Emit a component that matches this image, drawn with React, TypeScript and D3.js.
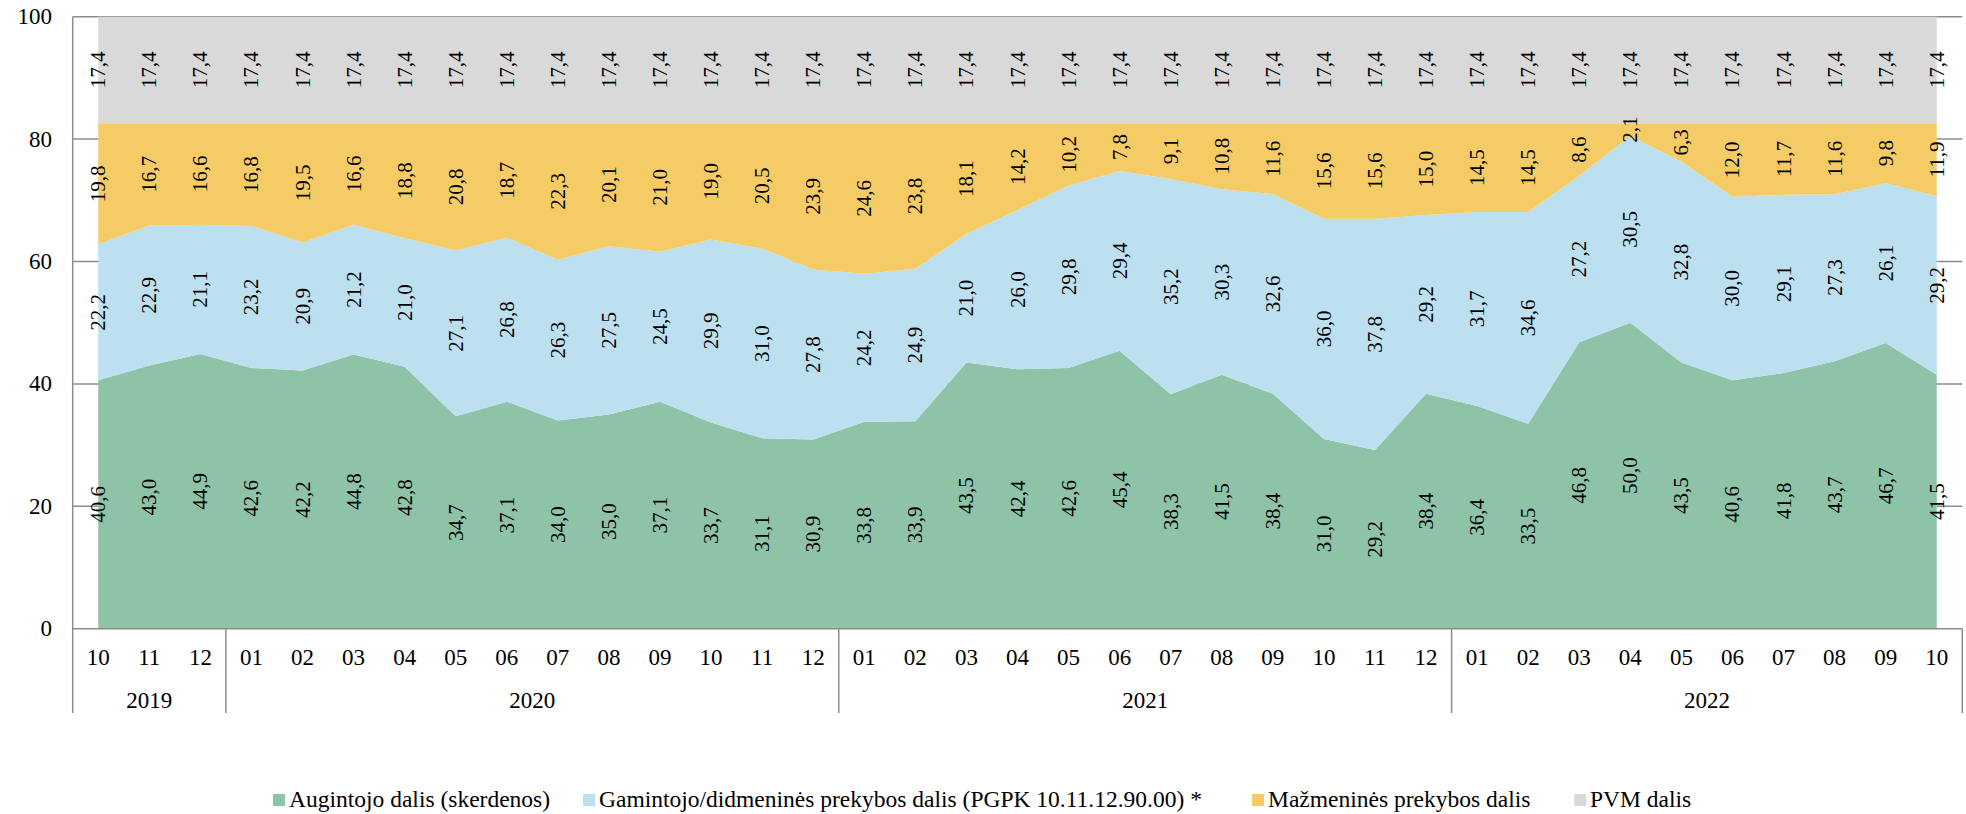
import React from "react";
import * as d3 from "d3";

const months = [
  "10", "11", "12",
  "01", "02", "03", "04", "05", "06", "07", "08", "09", "10", "11", "12",
  "01", "02", "03", "04", "05", "06", "07", "08", "09", "10", "11", "12",
  "01", "02", "03", "04", "05", "06", "07", "08", "09", "10",
];
const years = [
  { label: "2019", count: 3 },
  { label: "2020", count: 12 },
  { label: "2021", count: 12 },
  { label: "2022", count: 10 },
];
const augintojo = [
  40.6, 43.0, 44.9,
  42.6, 42.2, 44.8, 42.8, 34.7, 37.1, 34.0, 35.0, 37.1, 33.7, 31.1, 30.9,
  33.8, 33.9, 43.5, 42.4, 42.6, 45.4, 38.3, 41.5, 38.4, 31.0, 29.2, 38.4,
  36.4, 33.5, 46.8, 50.0, 43.5, 40.6, 41.8, 43.7, 46.7, 41.5,
];
const gamintojo = [
  22.2, 22.9, 21.1,
  23.2, 20.9, 21.2, 21.0, 27.1, 26.8, 26.3, 27.5, 24.5, 29.9, 31.0, 27.8,
  24.2, 24.9, 21.0, 26.0, 29.8, 29.4, 35.2, 30.3, 32.6, 36.0, 37.8, 29.2,
  31.7, 34.6, 27.2, 30.5, 32.8, 30.0, 29.1, 27.3, 26.1, 29.2,
];
const mazmenines = [
  19.8, 16.7, 16.6,
  16.8, 19.5, 16.6, 18.8, 20.8, 18.7, 22.3, 20.1, 21.0, 19.0, 20.5, 23.9,
  24.6, 23.8, 18.1, 14.2, 10.2, 7.8, 9.1, 10.8, 11.6, 15.6, 15.6, 15.0,
  14.5, 14.5, 8.6, 2.1, 6.3, 12.0, 11.7, 11.6, 9.8, 11.9,
];
const pvm = [
  17.4, 17.4, 17.4,
  17.4, 17.4, 17.4, 17.4, 17.4, 17.4, 17.4, 17.4, 17.4, 17.4, 17.4, 17.4,
  17.4, 17.4, 17.4, 17.4, 17.4, 17.4, 17.4, 17.4, 17.4, 17.4, 17.4, 17.4,
  17.4, 17.4, 17.4, 17.4, 17.4, 17.4, 17.4, 17.4, 17.4, 17.4,
];
const seriesNames = [
  "Augintojo dalis (skerdenos)",
  "Gamintojo/didmeninės prekybos dalis (PGPK 10.11.12.90.00) *",
  "Mažmeninės prekybos dalis",
  "PVM dalis",
];
const yTicks = [0, 20, 40, 60, 80, 100];

const colors = ["#8FC3A8", "#BDE0F0", "#F5CB66", "#D9D9D9"];
const keys = ["a", "g", "m", "p"];
const legendX = [273, 583, 1252, 1574];

const W = 1966;
const H = 814;
const L = 72.7;
const R = 1962.3;
const T = 16.7;
const B = 628.7;
const FONT = "Liberation Serif, Tinos, Times New Roman, DejaVu Serif, serif";
const AXIS = "#8c8c8c";
const txt = { fontFamily: FONT };

export default function App() {
  const rows = months.map((m, i) => ({
    a: augintojo[i],
    g: gamintojo[i],
    m: mazmenines[i],
    p: pvm[i],
  }));
  const stack = d3.stack<any>().keys(keys);
  const layers = stack(rows);

  const x = d3
    .scaleBand<number>()
    .domain(months.map((_, i) => i))
    .range([L, R]);
  const bw = x.bandwidth();
  const cx = (i: number) => (x(i) as number) + bw / 2;
  const y = d3.scaleLinear().domain([0, 100]).range([B, T]);

  const area = d3
    .area<any>()
    .x((_, i) => cx(i))
    .y0((d) => y(d[0]))
    .y1((d) => y(d[1]));

  const fmt = (v: number) => v.toFixed(1).replace(".", ",");

  let acc = 0;
  const groups = years.map((yr) => {
    const start = acc;
    acc += yr.count;
    return { ...yr, start, end: acc };
  });
  const boundaries = [0, ...groups.map((g) => g.end)];
  const bx = (k: number) => L + k * bw;

  return (
    <svg
      width={W}
      height={H}
      style={{ position: "absolute", left: 0, top: 0, background: "#fff", fontFamily: FONT }}
    >
      {yTicks
        .filter((t) => t > 0)
        .map((t) => (
          <line
            key={"g" + t}
            x1={L}
            x2={R}
            y1={y(t)}
            y2={y(t)}
            stroke={AXIS}
            strokeWidth={1.5}
          />
        ))}
      {layers.map((layer, k) => (
        <path key={keys[k]} d={area(layer as any) as string} fill={colors[k]} />
      ))}
      <line x1={L} x2={R} y1={B} y2={B} stroke={AXIS} strokeWidth={1.5} />
      {boundaries.map((k) => (
        <line
          key={"b" + k}
          x1={bx(k)}
          x2={bx(k)}
          y1={k === 0 ? T : B}
          y2={713}
          stroke={AXIS}
          strokeWidth={1.5}
        />
      ))}
      {yTicks.map((t) => (
        <text
          key={"yt" + t}
          x={52}
          y={y(t)}
          textAnchor="end"
          dominantBaseline="central"
          fontSize={23}
          fill="#000"
          style={txt}
        >
          {t}
        </text>
      ))}
      {months.map((m, i) => (
        <text
          key={"m" + i}
          x={cx(i)}
          y={657.5}
          textAnchor="middle"
          dominantBaseline="central"
          fontSize={23}
          fill="#000"
          style={txt}
        >
          {m}
        </text>
      ))}
      {groups.map((g) => (
        <text
          key={"yr" + g.label}
          x={(bx(g.start) + bx(g.end)) / 2}
          y={700}
          textAnchor="middle"
          dominantBaseline="central"
          fontSize={23}
          fill="#000"
          style={txt}
        >
          {g.label}
        </text>
      ))}
      {layers.map((layer, k) =>
        layer.map((d, i) => {
          const px = cx(i);
          const py = y((d[0] + d[1]) / 2);
          return (
            <text
              key={"dl" + k + "-" + i}
              transform={`translate(${px},${py}) rotate(-90)`}
              textAnchor="middle"
              dominantBaseline="central"
              fontSize={21}
              fill="#000"
              style={txt}
            >
              {fmt(d[1] - d[0])}
            </text>
          );
        })
      )}
      {seriesNames.map((name, k) => (
        <g key={"lg" + k}>
          <rect x={legendX[k]} y={794} width={12} height={12} fill={colors[k]} />
          <text x={legendX[k] + 16} y={806.5} fontSize={23.5} fill="#000" style={txt}>
            {name}
          </text>
        </g>
      ))}
    </svg>
  );
}
